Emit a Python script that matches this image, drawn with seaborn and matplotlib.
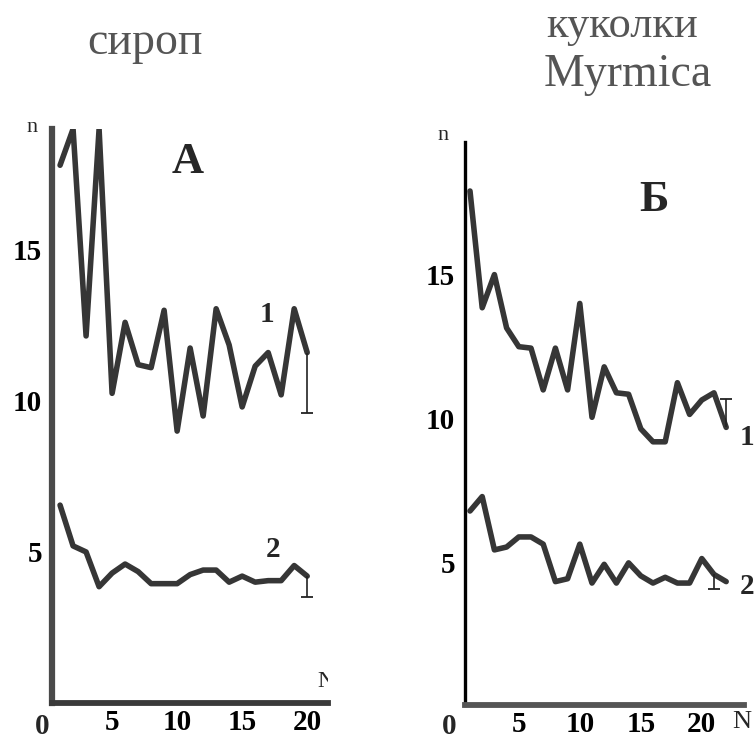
import pandas as pd
import matplotlib.pyplot as plt
import seaborn as sns

# --- Data ---

# panel A: syrup, trials 1..20
n_a = list(range(1, 21))
syrup_1 = [17.8, 19.0, 12.15, 19.0, 10.25, 12.6, 11.2, 11.1, 13.0, 9.0,
           11.75, 9.5, 13.05, 11.85, 9.8, 11.15, 11.6, 10.2, 13.05, 11.6]
syrup_2 = [6.55, 5.2, 5.0, 3.85, 4.3, 4.6, 4.35, 3.95, 3.95, 3.95,
           4.25, 4.4, 4.4, 4.0, 4.2, 4.0, 4.05, 4.05, 4.55, 4.2]

# panel B: Myrmica pupae, trials 1..22
n_b = list(range(1, 23))
pupae_1 = [17.9, 13.85, 15.0, 13.15, 12.5, 12.45, 11.0, 12.45, 11.0, 14.0, 10.05,
           11.8, 10.9, 10.85, 9.65, 9.2, 9.2, 11.25, 10.15, 10.65, 10.9, 9.7]
pupae_2 = [6.8, 7.3, 5.45, 5.55, 5.9, 5.9, 5.65, 4.35, 4.45, 5.65, 4.3,
           4.95, 4.3, 5.0, 4.55, 4.3, 4.5, 4.3, 4.3, 5.15, 4.6, 4.35]

# single one-sided error bars: (index of point, signed length)
err_a1 = (19, -2.0)
err_a2 = (19, -0.7)
err_b1 = (21, 1.0)
err_b2 = (20, -0.5)

x_ticks = [5, 10, 15, 20]
y_ticks = [5, 10, 15]

df_a = pd.DataFrame({'N': n_a * 2, 'n': syrup_1 + syrup_2,
                     'curve': ['1'] * len(n_a) + ['2'] * len(n_a)})
df_b = pd.DataFrame({'N': n_b * 2, 'n': pupae_1 + pupae_2,
                     'curve': ['1'] * len(n_b) + ['2'] * len(n_b)})

# --- Plot ---

sns.set_style('white')
plt.rcParams['font.family'] = ['Liberation Serif', 'DejaVu Serif']

W, H = 754, 741
fig = plt.figure(figsize=(W / 100, H / 100), dpi=100)

def px_box(left, top, right, bottom):
    return [left / W, 1 - bottom / H, (right - left) / W, (bottom - top) / H]

ax_a = fig.add_axes(px_box(52, 129, 328, 703))
ax_b = fig.add_axes(px_box(465, 142, 744, 705))

line_col = '#363636'

for ax, df, errs in [(ax_a, df_a, [err_a1, err_a2]), (ax_b, df_b, [err_b1, err_b2])]:
    sns.lineplot(data=df, x='N', y='n', units='curve', estimator=None,
                 color=line_col, lw=4.0, ax=ax, legend=False)
    for curve, (i, d) in zip(['1', '2'], errs):
        sub = df[df['curve'] == curve].reset_index(drop=True)
        x0, y0 = sub['N'][i], sub['n'][i]
        ax.vlines(x0, y0, y0 + d, color='#222222', lw=1.2)
        ax.plot([x0], [y0 + d], marker='_', ms=9, mew=1.3, color='#222222')
    ax.set_xticks(x_ticks)
    ax.set_yticks(y_ticks)
    ax.set_xlabel('')
    ax.set_ylabel('')
    for s in ['top', 'right']:
        ax.spines[s].set_visible(False)
    ax.tick_params(direction='in', length=7, width=1.6, colors='#222222')
    ax.tick_params(axis='x', pad=4)
    ax.tick_params(axis='y', pad=7)
    for lab in ax.get_xticklabels() + ax.get_yticklabels():
        lab.set_fontweight('bold')
        lab.set_fontsize(21)
        lab.set_color('black')

ax_a.set_xlim(0.38, 21.6)
ax_a.set_ylim(0, 19)
ax_a.spines['left'].set_linewidth(4.5)
ax_a.spines['left'].set_color('#4a4a4a')
ax_a.spines['bottom'].set_linewidth(4.2)
ax_a.spines['bottom'].set_color('#3a3a3a')

ax_b.set_xlim(0.59, 23.46)
ax_b.set_ylim(0.07, 19.6)
ax_b.spines['left'].set_linewidth(2.4)
ax_b.spines['left'].set_color('black')
ax_b.spines['bottom'].set_linewidth(4.2)
ax_b.spines['bottom'].set_color('#555555')

# panel letters and curve numbers
bold = dict(fontweight='bold', ha='center', va='center')
ax_a.text(10.8, 17.9, 'А', fontsize=32, **bold)
ax_b.text(16.1, 17.6, 'Б', fontsize=32, **bold)
ax_a.text(16.9, 12.85, '1', fontsize=21, **bold)
ax_a.text(17.4, 5.07, '2', fontsize=21, **bold)
ax_b.text(23.7, 9.34, '1', fontsize=21, clip_on=False, **bold)
ax_b.text(23.7, 4.17, '2', fontsize=21, clip_on=False, **bold)
ax_a.text(21.45, 0.7, 'N', fontsize=17, ha='center', va='center', clip_on=True)

# origin zeros and axis letters
fig.text(42 / W, 1 - 726 / H, '0', fontsize=21, **bold)
fig.text(449 / W, 1 - 726 / H, '0', fontsize=21, **bold)
fig.text(32 / W, 1 - 127 / H, 'n', fontsize=16, ha='center', va='center')
fig.text(443 / W, 1 - 136 / H, 'n', fontsize=16, ha='center', va='center')
fig.text(742 / W, 1 - 722 / H, 'N', fontsize=19, ha='center', va='center')

# column titles
title_col = '#555555'
fig.text(145 / W, 1 - 54 / H, 'сироп', fontsize=33, color=title_col,
         ha='center', va='baseline')
fig.text(622 / W, 1 - 37 / H, 'куколки', fontsize=32, color=title_col,
         ha='center', va='baseline')
fig.text(628 / W, 1 - 86 / H, 'Myrmica', fontsize=33, color=title_col,
         ha='center', va='baseline')

fig.savefig('out.png', dpi=100)
